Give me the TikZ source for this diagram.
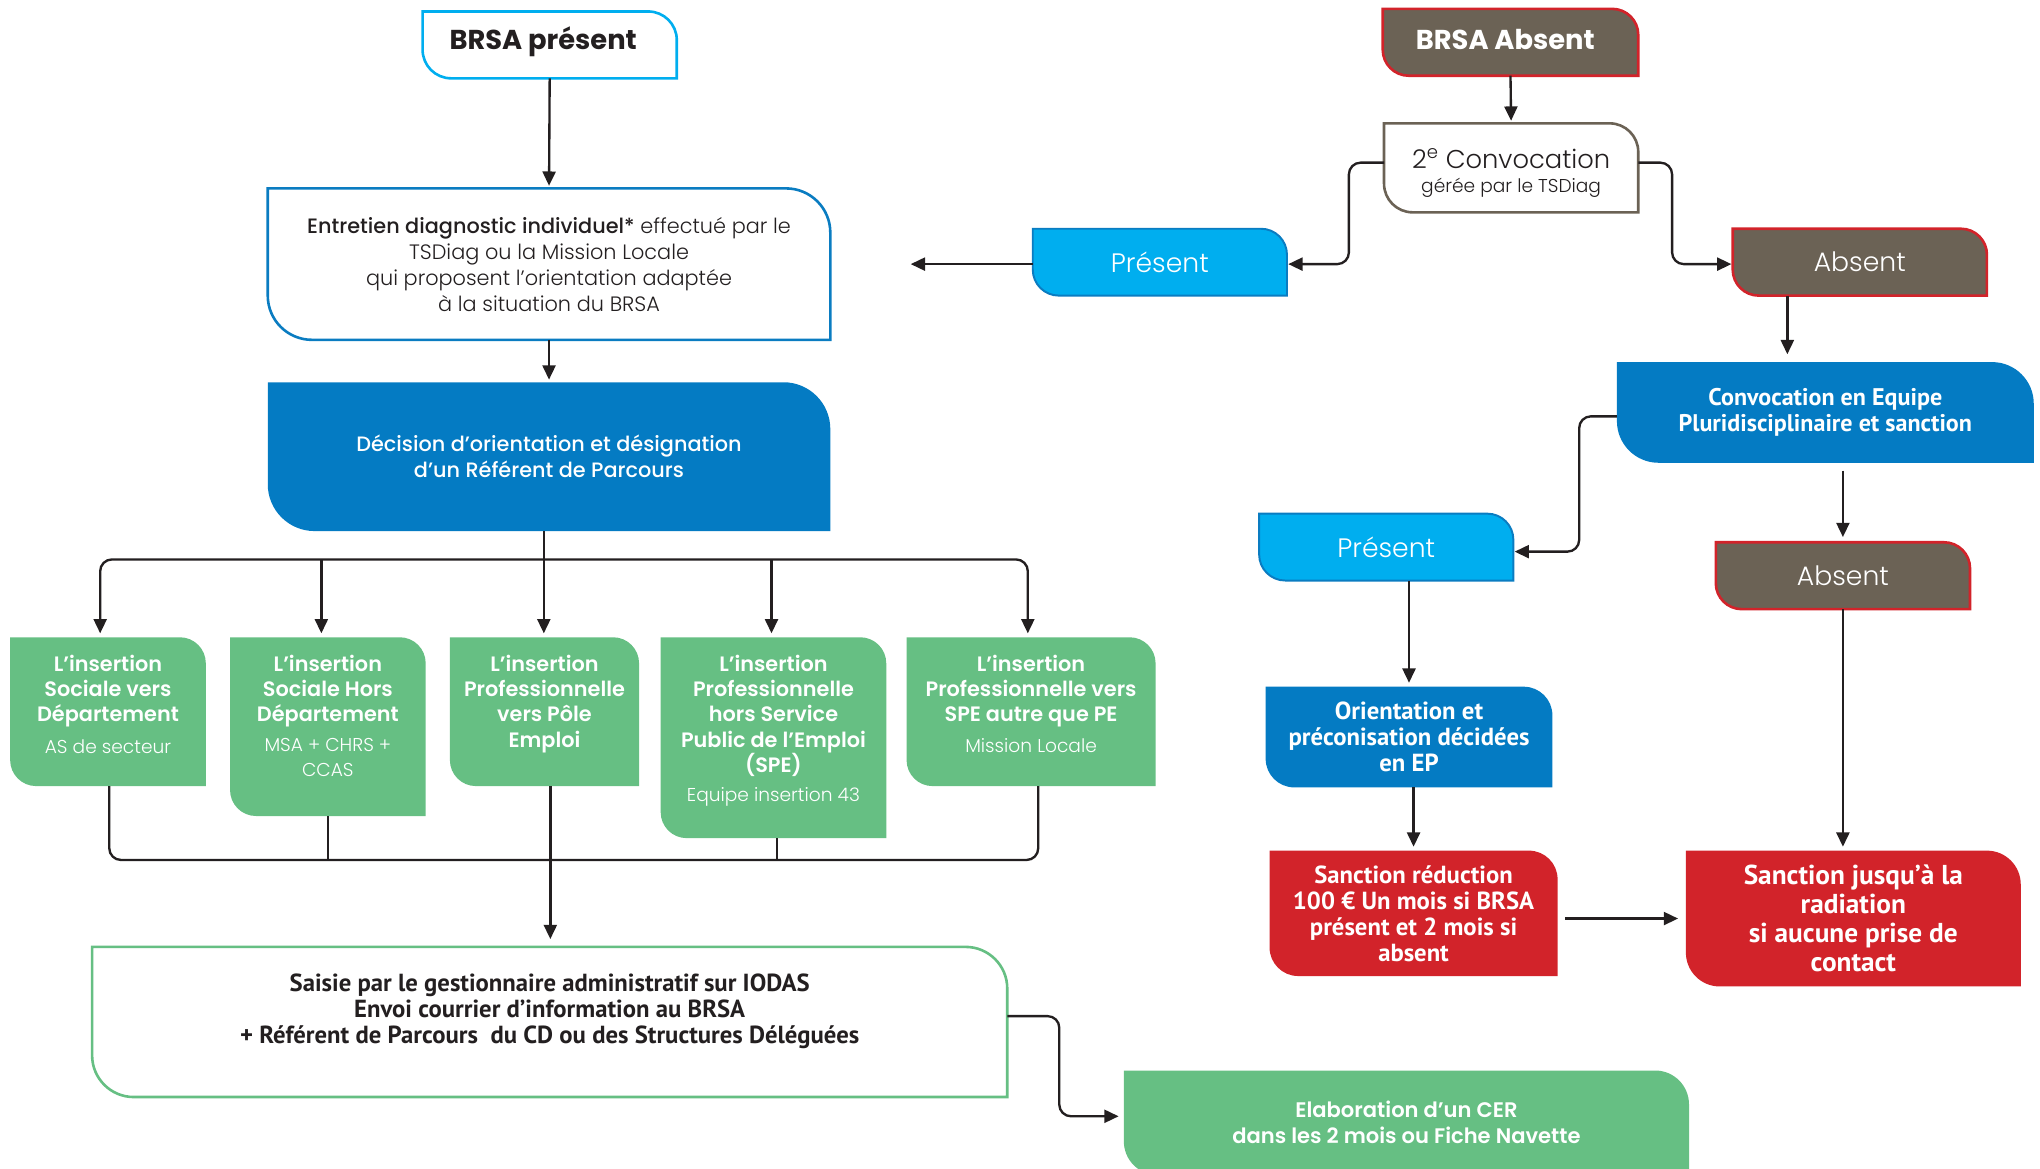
\documentclass[tikz,border=0pt]{standalone}
\usepackage{fontspec}
\setmainfont{Poppins}
\newfontfamily\lightf{Poppins Light}
\newfontfamily\medf{Poppins Medium}
\newfontfamily\semif{Poppins SemiBold}
\newfontfamily\condf{PT Sans}
\newcommand\gsubfont{\lightf\fontsize{14.3}{20}\selectfont}
\usetikzlibrary{arrows.meta,backgrounds}

\definecolor{ink}{HTML}{231F20}
\definecolor{cyanline}{HTML}{00AEEF}
\definecolor{bluedeep}{HTML}{047BC3}
\definecolor{blueline}{HTML}{0A7CC1}
\definecolor{leafgreen}{HTML}{66BF83}
\definecolor{taupe}{HTML}{6B6255}
\definecolor{alertred}{HTML}{D2232A}
\definecolor{skyblue}{HTML}{00AEEF}

% box with rounded top-right and bottom-left corners
\newcommand\leafpath[3]{%
  \path[#3] (#1.north west) -- ([xshift=-#2]#1.north east)
    arc[start angle=90,end angle=0,radius=#2] -- (#1.south east)
    -- ([xshift=#2]#1.south west)
    arc[start angle=270,end angle=180,radius=#2] -- cycle;}

\tikzset{
  box/.style={inner sep=0pt, align=center},
  arr/.style={draw=ink, line width=1.8pt, -{Triangle[length=11pt,width=10pt]}},
  wire/.style={draw=ink, line width=1.8pt},
  gtitle/.style={inner sep=0pt, align=center, text=white, anchor=north,
    font=\semif\fontsize{16}{19.5}\selectfont},
  statefont/.style={font=\lightf\fontsize{20.5}{22}\selectfont},
}

\begin{document}
\begin{tikzpicture}[x=1pt,y=1pt]
\useasboundingbox (0,0) rectangle (1568,-898);

% ---------- left column ----------
\node[box, minimum width=195pt, minimum height=51pt] (bp) at (422.5,-34.5) {};
\node[box, text=ink, font=\bfseries\fontsize{21}{24}\selectfont] (bpt) at (417.5,-32) {BRSA présent};

\node[box, minimum width=432pt, minimum height=116pt, text=ink,
  font=\lightf\fontsize{16}{20}\selectfont] (ent) at (422,-203)
  {{\medf Entretien diagnostic individuel*} effectué par le\\
   TSDiag ou la Mission Locale\\
   qui proposent l’orientation adaptée\\
   à la situation du BRSA};

\node[box, minimum width=432pt, minimum height=114pt, text=white,
  font=\medf\fontsize{16}{20}\selectfont] (dec) at (422,-351)
  {Décision d’orientation et désignation\\d’un Référent de Parcours};

\node[box, minimum width=150pt, minimum height=114pt] (g1) at (83,-547) {};
\node[box, minimum width=150pt, minimum height=137pt] (g2) at (252,-558.5) {};
\node[box, minimum width=145pt, minimum height=114pt] (g3) at (418.5,-547) {};
\node[box, minimum width=173pt, minimum height=154pt] (g4) at (594.5,-567) {};
\node[box, minimum width=191pt, minimum height=114pt] (g5) at (792.5,-547) {};

\node[gtitle] (g1t) at (83,-503)
  {L’insertion\\Sociale vers\\Département\\[5pt]{\gsubfont AS de secteur}};
\node[gtitle] (g2t) at (252,-503)
  {L’insertion\\Sociale Hors\\Département\\[3pt]{\gsubfont MSA + CHRS +}\\{\gsubfont CCAS}};
\node[gtitle] (g3t) at (418.5,-503)
  {L’insertion\\Professionnelle\\vers Pôle\\Emploi};
\node[gtitle] (g4t) at (594.5,-503)
  {L’insertion\\Professionnelle\\hors Service\\Public de l’Emploi\\(SPE)\\[3pt]{\gsubfont Equipe insertion 43}};
\node[gtitle] (g5t) at (792.5,-503)
  {L’insertion\\Professionnelle vers\\SPE autre que PE\\[4pt]{\gsubfont Mission Locale}};

\node[box, minimum width=703pt, minimum height=115pt] (sai) at (422.5,-785.5) {};
\node[box, text=ink, font=\condf\bfseries\fontsize{19}{20}\selectfont] (sait) at (422.5,-777.5)
  {Saisie par le gestionnaire administratif sur IODAS\\
   Envoi courrier d’information au BRSA\\
   + Référent de Parcours \ du CD ou des Structures Déléguées};

\node[box, minimum width=434pt, minimum height=80pt, text=white,
  font=\semif\fontsize{16.2}{20}\selectfont] (elab) at (1081,-863)
  {Elaboration d’un CER\\dans les 2 mois ou Fiche Navette};

% ---------- right column ----------
\node[box, minimum width=196pt, minimum height=51pt] (ba) at (1161,-32.5) {};
\node[box, text=white, font=\bfseries\fontsize{21}{24}\selectfont] (bat) at (1157,-30) {BRSA Absent};

\node[box, minimum width=195pt, minimum height=68pt] (conv) at (1161.5,-129) {};
\node[box, text=ink, font=\lightf\fontsize{14.3}{18}\selectfont] (convt) at (1161.5,-133)
  {{\fontsize{19.8}{18}\selectfont 2\textsuperscript{e} Convocation}\\
   gérée par le TSDiag};

\node[box, minimum width=195pt, minimum height=51pt, text=white, statefont] (pres1) at (891.5,-201.5) {Présent};
\node[box, minimum width=195pt, minimum height=51pt, text=white, statefont] (abs1) at (1429.5,-201.5) {Absent};

\node[box, minimum width=320pt, minimum height=77pt, text=white,
  font=\condf\bfseries\fontsize{18.5}{19.5}\selectfont] (cep) at (1403,-317)
  {Convocation en Equipe\\Pluridisciplinaire et sanction};

\node[box, minimum width=195pt, minimum height=51pt, text=white, statefont] (pres2) at (1065.5,-420.5) {Présent};
\node[box, minimum width=195pt, minimum height=51pt, text=white, statefont] (abs2) at (1416.5,-442.5) {Absent};

\node[box, minimum width=220pt, minimum height=77pt, text=white,
  font=\condf\bfseries\fontsize{19}{20}\selectfont] (ori) at (1083,-566.5)
  {Orientation et\\préconisation décidées\\en EP};

\node[box, minimum width=221pt, minimum height=96pt, text=white,
  font=\condf\bfseries\fontsize{19}{20}\selectfont] (sred) at (1086.5,-702)
  {Sanction réduction\\100 € Un mois si BRSA\\présent et 2 mois si\\absent};

\node[box, minimum width=257pt, minimum height=104pt, text=white,
  font=\condf\bfseries\fontsize{21}{22.3}\selectfont] (srad) at (1424.5,-706)
  {Sanction jusqu’à la\\radiation\\si aucune prise de\\contact};

\coordinate (left) at (700,-203);

% ---------- shapes ----------
\begin{scope}[on background layer]
  \leafpath{bp}{22pt}{draw=cyanline, line width=2pt, fill=white}
  \leafpath{ent}{34pt}{draw=blueline, line width=2pt, fill=white}
  \leafpath{dec}{36pt}{fill=bluedeep}
  \foreach \g in {g1,g2,g3,g4,g5}{\leafpath{\g}{20pt}{fill=leafgreen}}
  \leafpath{sai}{32pt}{draw=leafgreen, line width=2pt, fill=white}
  \leafpath{elab}{26pt}{fill=leafgreen}
  \leafpath{ba}{20pt}{draw=alertred, line width=2pt, fill=taupe}
  \leafpath{conv}{22pt}{draw=taupe, line width=2pt, fill=white}
  \leafpath{pres1}{20pt}{draw=blueline, line width=1.5pt, fill=skyblue}
  \leafpath{abs1}{20pt}{draw=alertred, line width=2pt, fill=taupe}
  \leafpath{cep}{32pt}{fill=bluedeep}
  \leafpath{pres2}{20pt}{draw=blueline, line width=1.5pt, fill=skyblue}
  \leafpath{abs2}{20pt}{draw=alertred, line width=2pt, fill=taupe}
  \leafpath{ori}{22pt}{fill=bluedeep}
  \leafpath{sred}{22pt}{fill=alertred}
  \leafpath{srad}{26pt}{fill=alertred}
\end{scope}

% ---------- connectors: left column ----------
\draw[arr, shorten >=2pt] (bp.south) -- (ent.north);
\draw[arr, shorten >=2pt] (ent.south) -- (dec.north);

\coordinate (split) at (418,-430);
\draw[wire] (split |- dec.south) -- (split);
\draw[arr, rounded corners=9pt, shorten >=3pt] (split) -| ([xshift=-6pt]g1.north);
\draw[arr, rounded corners=9pt, shorten >=3pt] (split) -| ([xshift=-2.5pt]g5.north);
\draw[arr, shorten >=3pt] ([xshift=-5pt]g2.north |- split) -- ([xshift=-5pt]g2.north);
\draw[arr, shorten >=3pt] (split) -- (split |- g3.north);
\draw[arr, shorten >=3pt] ([xshift=-1.5pt]g4.north |- split) -- ([xshift=-1.5pt]g4.north);

\coordinate (join) at (423,-661);
\draw[wire, rounded corners=9pt] ([xshift=1pt]g1.south) |- (join);
\draw[wire, rounded corners=9pt] ([xshift=5.5pt]g5.south) |- (join);
\draw[wire] (g2.south) -- (g2.south |- join);
\draw[wire] ([xshift=2.5pt]g4.south) -- ([xshift=2.5pt]g4.south |- join);
\draw[arr, shorten >=6pt] (join |- g3.south) -- (join |- sai.north);

\draw[arr, rounded corners=9pt, shorten >=4pt] ([yshift=4.5pt]sai.east) -- ++(40pt,0) |- ([yshift=5pt]elab.west);

% ---------- connectors: right column ----------
\draw[arr, shorten >=2pt] (ba.south) -- (conv.north);
\draw[arr, rounded corners=9pt, shorten >=1pt] ([yshift=4pt]conv.west) -- ++(-27pt,0) |- ([yshift=-1.5pt]pres1.east);
\draw[arr, rounded corners=9pt, shorten >=1pt] ([yshift=4pt]conv.east) -- ++(26pt,0) |- ([yshift=-1.5pt]abs1.west);
\draw[arr] ([yshift=-1.5pt]pres1.west) -- (left);

\draw[arr, shorten >=6pt] ([xshift=42pt]abs1.south west) -- ([xshift=42pt]abs1.south west |- cep.north);
\draw[arr, rounded corners=9pt, shorten >=1pt] ([yshift=-3pt]cep.west) -- ++(-29pt,0) |- ([yshift=-3.5pt]pres2.east);
\draw[arr, shorten <=6pt, shorten >=4pt] (abs2.north |- cep.south) -- (abs2.north);
\draw[arr, shorten >=3pt] (ori.north |- pres2.south) -- (ori.north);
\draw[arr, shorten >=3pt] (sred.north |- ori.south) -- (sred.north);
\draw[arr, shorten <=6pt, shorten >=6pt] ([yshift=-4pt]sred.east) -- ([yshift=-4pt]sred.east -| srad.west);
\draw[arr, shorten >=3pt] (abs2.south) -- (abs2.south |- srad.north);
\end{tikzpicture}
\end{document}
